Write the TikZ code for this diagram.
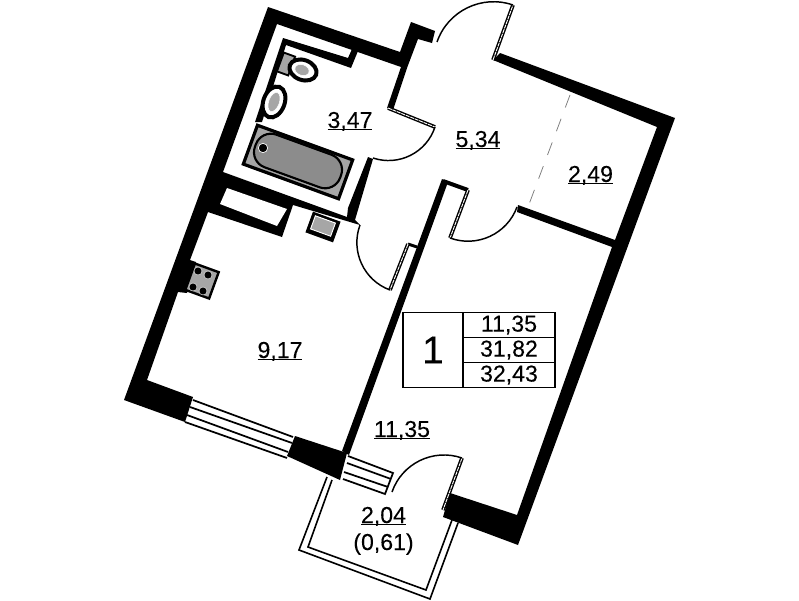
\documentclass[tikz,border=0pt]{standalone}
\usepackage{fontspec}
\setmainfont{Liberation Sans}[FakeBold=0.2]
\usepackage{tikz}
\usetikzlibrary{positioning}
\usetikzlibrary{shapes.geometric}

\newcommand{\doorleaf}[2]{
	\draw[line width=2.8pt] (#1) -- (#2);
	\draw[white,line width=.7pt,dash pattern=on 3pt off .6pt] (#1) -- (#2);
}
\newcommand{\areanum}[1]{\setbox0\hbox{#1}\rlap{\rule[-1.4pt]{\wd0}{.9pt}}\box0}

\begin{document}
\begin{tikzpicture}[x=.75pt,y=-.75pt]
	\tikzset{wall/.style={fill=black}}
	\tikzset{swing/.style={line width=1.1pt}}
	\tikzset{glassline/.style={line width=1.3pt}}
	\tikzset{ledge/.style={line width=1.2pt}}
	\tikzset{arealabel/.style={font=\fontsize{17.3}{20}\selectfont,inner sep=0pt,anchor=base}}
	\tikzset{fixture/.style={draw=black,fill=black!35,rotate=-20,inner sep=0pt}}
	\tikzset{cell/.style={draw=black,line width=1.1pt,inner sep=0pt,outer sep=0pt,minimum width=69pt,minimum height=18.75pt,font=\fontsize{17.3}{20}\selectfont}}
	\useasboundingbox (0,0) rectangle (799,600);
	% walls
	\fill[wall] (268,7) -- (400,52) -- (411,22) -- (435,31) -- (432,43) -- (418,39) -- (407,68)
		-- (393,110) -- (387,108) -- (401,67) -- (277,24) -- (223,172) -- (347,217) -- (348,208)
		-- (368,157) -- (373,159) -- (355,220) -- (360,225) -- (293,205) -- (282,237) -- (208,212)
		-- (190,260) -- (196,262) -- (187,293) -- (178,292)
		-- (147,380) -- (193,397) -- (185,422) -- (124,400) -- cycle;
	\fill[white] (227,188) -- (287,209) -- (277,226) -- (220,204) -- cycle;
	\fill[wall] (295,436) -- (347,453) -- (340,480) -- (287,456) -- cycle;
	\fill[wall] (493,60) -- (500,53) -- (675,118) -- (518,545) -- (443,517) -- (450,493)
		-- (517,515) -- (612,247) -- (517,212) -- (518,205) -- (615,240) -- (657,127) -- cycle;
	\fill[wall] (442,179) -- (448,182) -- (349,455) -- (342,451) -- cycle;
	\draw[line width=3pt] (443,181) -- (468,190);
	\draw[line width=2.2pt] (408,244) -- (417,247);
	% shaft in the bathroom
	\fill[wall] (283,38) -- (348,58) -- (352,49) -- (358,51) -- (351,68) -- (286,45) -- (262,122) -- (255,122) -- cycle;
	% doors
	\doorleaf{388,108}{435,127}
	\draw[swing] (435,127) to[bend left=45] (373,158);
	\doorleaf{493,60}{513,5}
	\draw[swing] (437,42) to[bend left=45] (513,5);
	\doorleaf{468,190}{450,238}
	\draw[swing] (450,238) to[bend right=45] (517,207);
	\doorleaf{408,244}{390,290}
	\draw[swing] (360,225) to[bend right=45] (390,290);
	\doorleaf{462,458}{443,510}
	\draw[swing] (392,492) to[bend left=45] (462,458);
	% partition
	\draw[gray,line width=.6pt,dash pattern=on 10pt off 9pt] (570,95) -- (528,207);
	% windows
	\draw[glassline] (193,400) -- (293,437);
	\draw[glassline] (190,407) -- (292,443);
	\draw[glassline] (187,415) -- (288,452);
	\draw[glassline] (185,422) -- (287,458);
	\draw[glassline] (348,456) -- (393,473) -- (385,494) -- (343,479);
	\draw[glassline] (347,463) -- (391,479);
	\draw[glassline] (344,472) -- (388,487);
	% balcony
	\draw[ledge] (327,477) -- (299,550) -- (430,599) -- (458,523);
	\draw[ledge] (332,480) -- (308,547) -- (426,590) -- (452,520);
	% bath
	\node[fixture,line width=2.4pt,minimum width=76pt,minimum height=31pt] (bathframe) at (298,162) {};
	\node[fixture,line width=1.6pt,fill=black!45,rounded corners=12pt,minimum width=68pt,minimum height=26pt] (bathtub) at (298,161) {};
	\node[circle,fill=black,draw=white,line width=.5pt,minimum size=7pt,inner sep=0pt] (bathdrain) at (263,148) {};
	% toilet and basin
	\node[fixture,line width=1.4pt,minimum width=9pt,minimum height=15pt] (toilettank) at (286,64) {};
	\node[ellipse,draw=black,line width=3pt,fill=white,rotate=-20,minimum width=21pt,minimum height=15pt,inner sep=0pt] (toiletbowl) at (303,70) {};
	\node[ellipse,fixture,line width=.4pt,draw=white,minimum width=11pt,minimum height=8pt] (toiletseat) at (302,70) {};
	\node[ellipse,draw=black,line width=3pt,fill=white,rotate=-20,minimum width=16pt,minimum height=24pt,inner sep=0pt] (basin) at (274,102) {};
	\node[ellipse,fixture,draw=white,line width=.4pt,minimum width=8pt,minimum height=15pt] (basinbowl) at (274,102) {};
	% kitchen
	\node[fixture,fill=black,line width=1pt,minimum width=21pt,minimum height=15.5pt] (kitchensink) at (323,227) {};
	\node[fixture,draw=white,line width=.7pt,minimum width=16pt,minimum height=10.5pt] (sinkbowl) at (323,226) {};
	\node[fixture,line width=1.8pt,minimum width=19pt,minimum height=21pt] (stove) at (202,281) {};
	\foreach \bx/\by/\bname in {198/271/ringa,208/275/ringb,193/287/ringc,203/291/ringd}
		\node[circle,fill=black,draw=white,line width=.3pt,minimum size=6pt,inner sep=0pt] (\bname) at (\bx,\by) {};
	% areas
	\node[arealabel] (bathroom) at (350,128) {\areanum{3,47}};
	\node[arealabel] (hall) at (478,147) {\areanum{5,34}};
	\node[arealabel] (storage) at (590.5,182) {\areanum{2,49}};
	\node[arealabel] (kitchen) at (280,358) {\areanum{9,17}};
	\node[arealabel] (room) at (402,437) {\areanum{11,35}};
	\node[arealabel] (balcony) at (383.5,523) {\areanum{2,04}};
	\node[arealabel] (balconyreduced) at (383.5,550) {(0,61)};
	% summary table
	\node[cell] (livingarea) at (509,325) {11,35};
	\node[cell,below=0pt of livingarea] (totalarea) {31,82};
	\node[cell,below=0pt of totalarea] (fullarea) {32,43};
	\node[cell,minimum width=45pt,minimum height=56.25pt,font=\fontsize{29}{32}\selectfont,left=0pt of totalarea] (roomcount) {1};
\end{tikzpicture}
\end{document}
